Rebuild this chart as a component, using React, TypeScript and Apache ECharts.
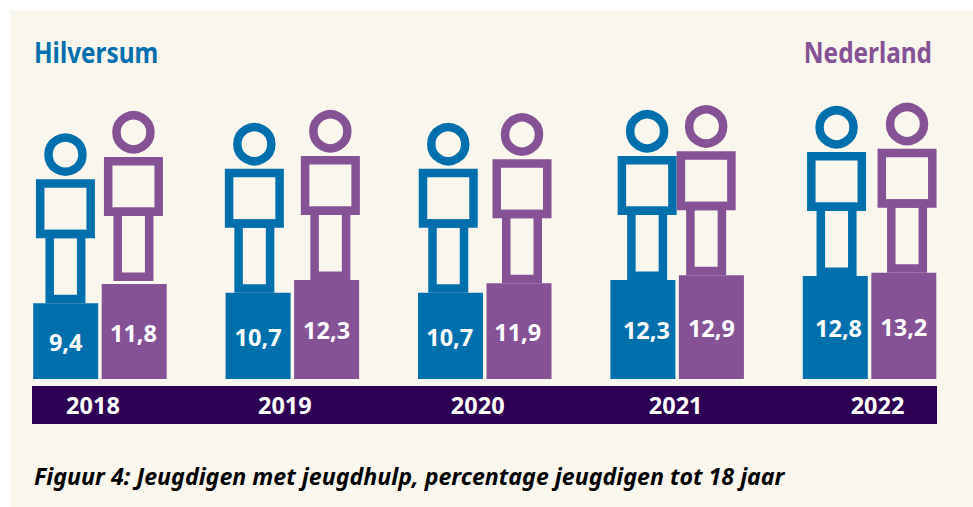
import React, { useEffect, useRef } from "react";
import * as echarts from "echarts";

const years = ["2018", "2019", "2020", "2021", "2022"];
const hilversum = [9.4, 10.7, 10.7, 12.3, 12.8];
const nederland = [11.8, 12.3, 11.9, 12.9, 13.2];
const leftTitle = "Hilversum";
const rightTitle = "Nederland";
const caption = "Figuur 4: Jeugdigen met jeugdhulp, percentage jeugdigen tot 18 jaar";

const BLUE = "#0070AD";
const PURPLE = "#855295";
const BAND = "#2E0054";
const CREAM = "#F9F6EE";
const FONT = "'Noto Sans', 'Open Sans', sans-serif";

// Hand-placed nudges of the reference's pictograms and labels, relative to their bars
const blueFigureNudge = [-0.25, -3.75, -2.25, 4.25, 1.25];
const purpleFigureNudge = [-0.75, 3.75, 3, -5.25, 3.25];
const purpleFigureLift = [3, 0, 0, 0, 0];
const blueLabelNudge = [0, 0, -0.75, 3.5, 3.25];
const purpleLabelNudge = [-0.75, 0, -1.25, 0, 0];
const yearNudge = [-7, -7.5, -7, -1.5, 8];

const BAR_OFFSET = 34.25;

const figureRenderer = (color: string, side: number, nudge: number[], lift?: number[]) =>
  (params: any, api: any) => {
    const i = api.value(0);
    const top = api.coord([i, api.value(1)]);
    const cx = top[0] + side * BAR_OFFSET + nudge[i];
    const bottom = top[1] - (lift ? lift[i] : 0);
    const sw = 8.5;
    const bodyOuter = 59;
    const legOuter = 40;
    const legH = 65;
    const bodyBottom = bottom - legH;
    const bodyTop = bodyBottom - bodyOuter;
    const style = { fill: "none", stroke: color, lineWidth: sw };
    return {
      type: "group",
      children: [
        {
          type: "rect",
          shape: {
            x: cx - legOuter / 2 + sw / 2,
            y: bodyBottom - sw / 2,
            width: legOuter - sw,
            height: legH,
          },
          style,
        },
        {
          type: "rect",
          shape: {
            x: cx - bodyOuter / 2 + sw / 2,
            y: bodyTop + sw / 2,
            width: bodyOuter - sw,
            height: bodyOuter - sw,
          },
          style,
        },
        {
          type: "circle",
          shape: { cx, cy: bodyTop - 24.7, r: 17 },
          style,
        },
      ],
    };
  };

const barLabel = (nudge: number[]) => (v: number, i: number) => ({
  value: v,
  label: { offset: [nudge[i], 1] },
});

export default function App() {
  const ref = useRef<HTMLDivElement>(null);
  useEffect(() => {
    const chart = echarts.init(ref.current!, undefined, { renderer: "svg" });
    const labelBase = {
      show: true,
      position: "inside" as const,
      color: "#FFFFFF",
      fontFamily: FONT,
      fontWeight: "bold" as const,
      fontSize: 23.5,
      formatter: (p: any) => String(p.value).replace(".", ","),
    };
    const yearRich: any = {};
    years.forEach((y, i) => {
      const n = yearNudge[i];
      yearRich["y" + y] = {
        color: "#FFFFFF",
        fontFamily: FONT,
        fontWeight: "bold",
        fontSize: 23.5,
        padding: n < 0 ? [0, -2 * n, 0, 0] : [0, 0, 0, 2 * n],
      };
    });
    chart.setOption({
      animation: false,
      backgroundColor: "transparent",
      grid: { left: 3.75, right: 7.25, top: 57, bottom: 128 },
      xAxis: {
        type: "category",
        data: years,
        axisLine: { show: false },
        axisTick: { show: false },
        axisLabel: {
          margin: 14,
          interval: 0,
          formatter: (v: string) => `{y${v}|${v}}`,
          rich: yearRich,
        },
      },
      yAxis: { type: "value", min: 0, max: 40, show: false },
      graphic: [
        { type: "rect", z: -10, shape: { x: 10, y: 10, width: 963, height: 497 }, style: { fill: CREAM } },
        { type: "rect", z: -9, shape: { x: 32, y: 386, width: 905, height: 38 }, style: { fill: BAND } },
        {
          type: "text", x: 34, y: 51.5, scaleX: 0.84,
          style: { text: leftTitle, fill: BLUE, font: `bold 29px ${FONT}`, textVerticalAlign: "middle" },
        },
        {
          type: "text", x: 932, y: 51.5, scaleX: 0.84,
          style: { text: rightTitle, fill: PURPLE, font: `bold 29px ${FONT}`, textAlign: "right", textVerticalAlign: "middle" },
        },
        {
          type: "text", x: 34, y: 475.5,
          style: { text: caption, fill: "#000000", font: `italic bold 23.2px ${FONT}`, textVerticalAlign: "middle" },
        },
      ],
      series: [
        {
          name: "Hilversum",
          type: "bar",
          barWidth: 65,
          barGap: "5.4%",
          itemStyle: { color: BLUE },
          label: labelBase,
          data: hilversum.map(barLabel(blueLabelNudge)),
        },
        {
          name: "Nederland",
          type: "bar",
          barWidth: 65,
          itemStyle: { color: PURPLE },
          label: labelBase,
          data: nederland.map(barLabel(purpleLabelNudge)),
        },
        {
          type: "custom",
          clip: false,
          z: 3,
          encode: { x: 0, y: 1 },
          renderItem: figureRenderer(BLUE, -1, blueFigureNudge),
          data: hilversum.map((v, i) => [i, v]),
        },
        {
          type: "custom",
          clip: false,
          z: 4,
          encode: { x: 0, y: 1 },
          renderItem: figureRenderer(PURPLE, 1, purpleFigureNudge, purpleFigureLift),
          data: nederland.map((v, i) => [i, v]),
        },
      ],
    });
    return () => chart.dispose();
  }, []);
  return (
    <div
      ref={ref}
      style={{ position: "absolute", left: 0, top: 0, width: 973, height: 507, background: "#FFFFFF" }}
    />
  );
}
